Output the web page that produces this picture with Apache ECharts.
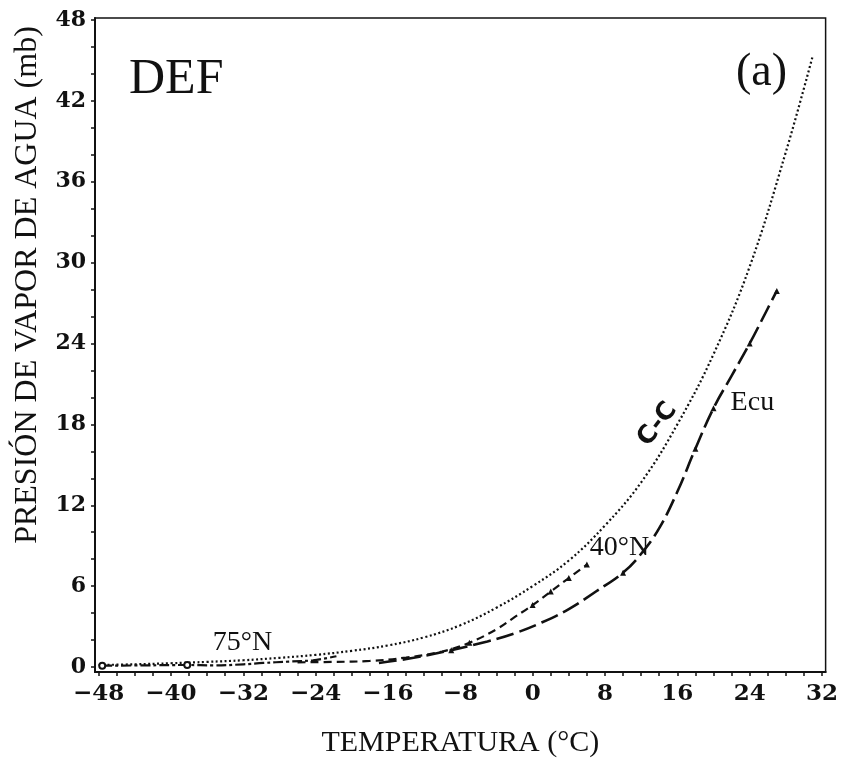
<!DOCTYPE html>
<html>
<head>
<meta charset="utf-8">
<title>Presión de vapor de agua</title>
<script src="https://cdn.jsdelivr.net/npm/echarts@6/dist/echarts.min.js"></script>
<style>
  html, body { margin: 0; padding: 0; background: #fff; }
  #chart { width: 841px; height: 763px; }
</style>
</head>
<body>
<div id="chart"></div>
<script>
// Clausius-Clapeyron saturation curve (C-C)
const ccTemp = [-48, -44, -40, -36, -32, -28, -24, -20, -16, -12, -8, -4, 0, 4, 8, 12, 16, 20, 24, 28, 31];
const ccPres = [0.15, 0.2, 0.28, 0.38, 0.5, 0.68, 0.9, 1.2, 1.6, 2.2, 3.1, 4.4, 6.0, 7.9, 10.5, 13.7, 18.0, 23.2, 29.7, 38.2, 45.4];

// 75°N profile
const n75Temp = [-47.6, -43, -38.2, -35.3, -32, -29.8, -27, -24.3, -21.7];
const n75Pres = [0.1, 0.12, 0.15, 0.12, 0.2, 0.3, 0.4, 0.5, 0.8];
const n75Marks = [0, 2];

// 40°N profile
const n40Temp = [-26, -22, -18, -14, -10, -7, -4, -2, 0, 2, 4, 6];
const n40Pres = [0.35, 0.38, 0.45, 0.7, 1.15, 1.8, 2.8, 3.7, 4.6, 5.6, 6.6, 7.6];
const n40Marks = [5, 8, 9, 10, 11];

// Ecuador profile
const ecuTemp = [-17, -13, -9, -5, -2, 1, 4, 7, 10, 12, 14, 16, 18, 20, 22, 24, 26, 27];
const ecuPres = [0.3, 0.7, 1.25, 1.9, 2.5, 3.3, 4.3, 5.6, 7.0, 8.4, 10.3, 13.0, 16.2, 19.2, 21.6, 24.0, 26.6, 27.9];
const ecuMarks = [2, 8, 12, 13, 15, 17];

// Tick labels and tick marks
const xTickLabels = [-48, -40, -32, -24, -16, -8, 0, 8, 16, 24, 32];
const yTickLabels = [0, 6, 12, 18, 24, 30, 36, 42, 48];
const xTickMarks = [];
for (let t = -48; t <= 32; t += 2) xTickMarks.push(t);
const yTickMarks = [];
for (let p = 0; p <= 48; p += 2) yTickMarks.push(p);

const INK = '#111';

function pairs(xs, ys, marks, symbol, size) {
  return xs.map((x, i) => {
    const item = { value: [x, ys[i]] };
    if (marks && marks.indexOf(i) >= 0) {
      item.symbol = symbol;
      item.symbolSize = size;
    } else {
      item.symbol = 'none';
    }
    return item;
  });
}

const chart = echarts.init(document.getElementById('chart'), null, { renderer: 'canvas' });

const option = {
  backgroundColor: '#fff',
  animation: false,
  grid: {
    left: 95, top: 18, width: 734, height: 656,
    show: true, borderColor: INK, borderWidth: 1.5, backgroundColor: 'transparent'
  },
  xAxis: {
    type: 'value', min: -48.4, max: 32.4,
    axisLine: { show: true, onZero: false, lineStyle: { color: INK, width: 2 } },
    axisTick: { show: true, customValues: xTickMarks, length: 4, lineStyle: { color: INK, width: 1.5 } },
    axisLabel: {
      customValues: xTickLabels,
      formatter: v => (v < 0 ? '\u2212' + Math.abs(v) : String(v)),
      fontFamily: 'DejaVu Serif', fontSize: 23, fontWeight: 'bold', color: INK, margin: 11
    },
    splitLine: { show: false },
    name: 'TEMPERATURA (°C)', nameLocation: 'middle', nameGap: 56,
    nameTextStyle: { fontFamily: 'Liberation Serif', fontSize: 30, color: INK }
  },
  yAxis: {
    type: 'value', min: -0.37, max: 48.15,
    axisLine: { show: true, onZero: false, lineStyle: { color: INK, width: 2 } },
    axisTick: { show: true, customValues: yTickMarks, length: 4, lineStyle: { color: INK, width: 1.5 } },
    axisLabel: {
      customValues: yTickLabels,
      fontFamily: 'DejaVu Serif', fontSize: 22, fontWeight: 'bold', color: INK, margin: 9
    },
    splitLine: { show: false }
  },
  series: [
    {
      name: 'C-C', type: 'line', smooth: 0.4,
      showSymbol: false, symbol: 'none',
      lineStyle: { color: INK, width: 2.2, type: [2, 2.5] },
      data: pairs(ccTemp, ccPres, null)
    },
    {
      name: '75°N', type: 'line', smooth: 0.4,
      itemStyle: { color: INK, borderColor: INK },
      lineStyle: { color: INK, width: 2.2, type: [10, 3, 3, 3] },
      data: pairs(n75Temp, n75Pres, n75Marks, 'emptyCircle', 6)
    },
    {
      name: '40°N', type: 'line', smooth: 0.4,
      itemStyle: { color: INK },
      lineStyle: { color: INK, width: 2.2, type: [8, 5] },
      data: pairs(n40Temp, n40Pres, n40Marks, 'triangle', 6)
    },
    {
      name: 'Ecu', type: 'line', smooth: 0.4,
      itemStyle: { color: INK },
      lineStyle: { color: INK, width: 2.6, type: [18, 6] },
      data: pairs(ecuTemp, ecuPres, ecuMarks, 'triangle', 6)
    }
  ]
};

chart.setOption(option);

// Annotations anchored in data units
function at(t, p) { return chart.convertToPixel({ gridIndex: 0 }, [t, p]); }
const serif = 'Liberation Serif';
const lbl75 = at(-32.1, 1.9);
const lbl40 = at(9.6, 8.95);
const lblEcu = at(24.3, 19.7);
const lblCC = at(13.8, 18.0);

chart.setOption({
  graphic: [
    {
      type: 'text', x: 28, y: 285, rotation: Math.PI / 2,
      style: { text: 'PRESIÓN DE VAPOR DE AGUA (mb)', font: '32px "' + serif + '"', fill: INK, align: 'center', verticalAlign: 'middle' }
    },
    {
      type: 'text', x: 129, y: 80,
      style: { text: 'DEF', font: '50px "' + serif + '"', fill: INK, align: 'left', verticalAlign: 'middle' }
    },
    {
      type: 'text', x: 736, y: 73,
      style: { text: '(a)', font: '46px "' + serif + '"', fill: INK, align: 'left', verticalAlign: 'middle' }
    },
    {
      type: 'text', x: lbl75[0], y: lbl75[1] + 1,
      style: { text: '75°N', font: '28px "' + serif + '"', fill: INK, align: 'center', verticalAlign: 'middle' }
    },
    {
      type: 'text', x: lbl40[0], y: lbl40[1] + 1,
      style: { text: '40°N', font: '28px "' + serif + '"', fill: INK, align: 'center', verticalAlign: 'middle' }
    },
    {
      type: 'text', x: lblEcu[0], y: lblEcu[1] + 1,
      style: { text: 'Ecu', font: '28px "' + serif + '"', fill: INK, align: 'center', verticalAlign: 'middle' }
    },
    {
      type: 'text', x: lblCC[0], y: lblCC[1], rotation: 52 * Math.PI / 180,
      style: { text: 'C-C', font: 'bold 25px "DejaVu Sans"', fill: INK, align: 'center', verticalAlign: 'middle' }
    }
  ]
});
</script>
</body>
</html>
